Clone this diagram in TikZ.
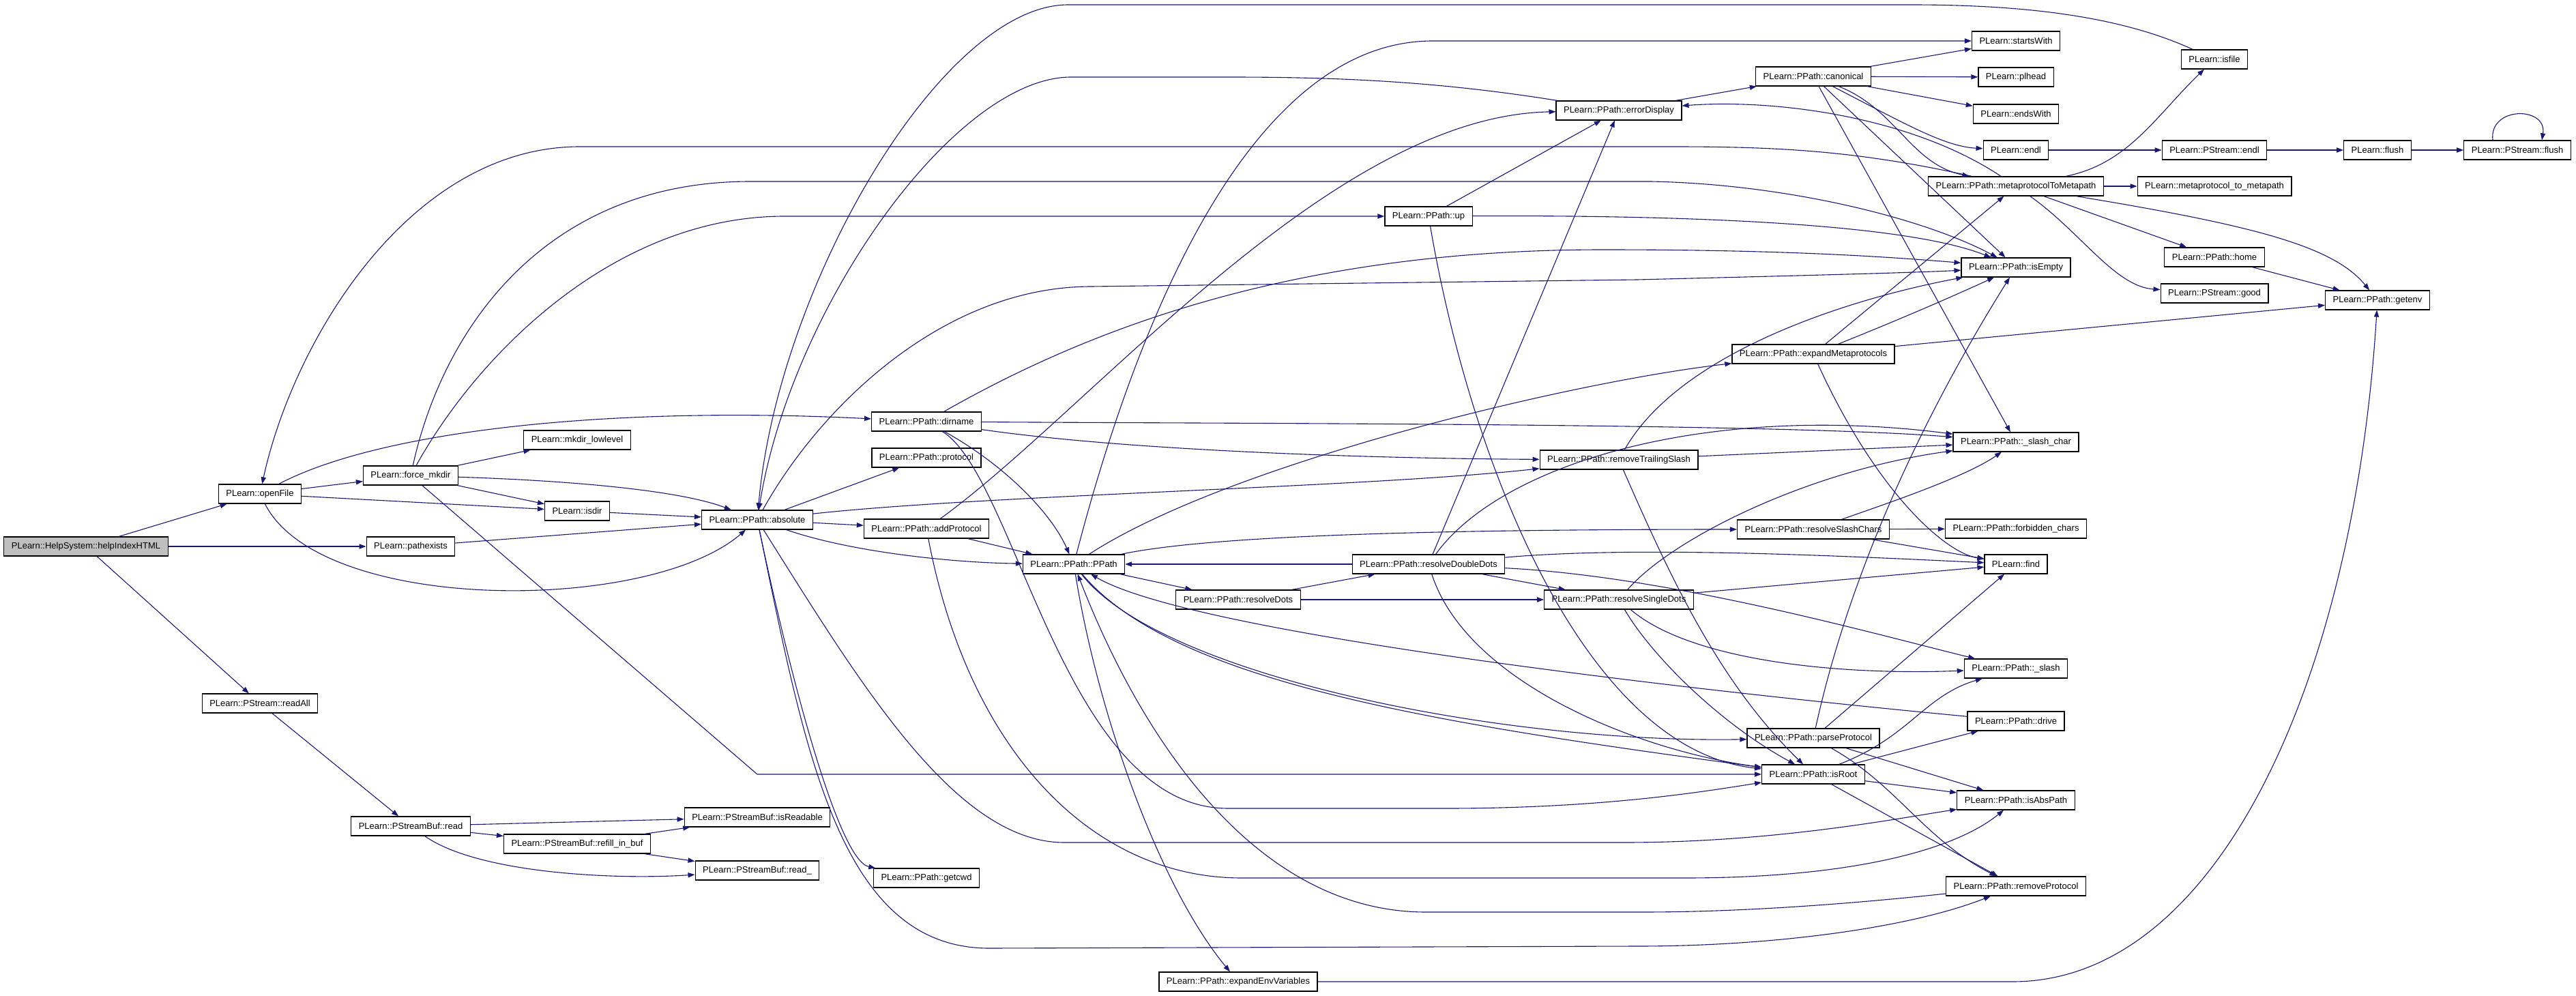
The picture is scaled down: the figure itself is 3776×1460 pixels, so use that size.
\documentclass[tikz,border=0pt]{standalone}
\usepackage{fontspec}
\setmainfont{Liberation Sans}
\usetikzlibrary{arrows.meta}
\definecolor{edgeblue}{HTML}{191970}
\definecolor{rootgray}{HTML}{BFBFBF}
\begin{document}
\begin{tikzpicture}[x=0.5pt, y=-0.5pt,
  fn/.style = {draw, fill=white, line width=0.6pt, minimum height=14pt, inner xsep=5.5pt, inner ysep=0pt, font=\fontsize{6.5}{7}\selectfont},
  root/.style = {fn, fill=rootgray},
  call/.style = {draw=edgeblue, line width=0.55pt, -{Triangle[length=5pt,width=3.6pt]}}]

	\fill[white] (0,0) rectangle (3776,1460);
	\useasboundingbox (0,0) rectangle (3776,1460);

	\node[root] (help) at (126,801) {PLearn::HelpSystem::helpIndexHTML};
	\node[fn] (openFile) at (381,724) {PLearn::openFile};
	\node[fn] (pathexists) at (602,801) {PLearn::pathexists};
	\node[fn] (readAll) at (381,1031) {PLearn::PStream::readAll};
	\node[fn] (forceMkdir) at (602,697) {PLearn::force\_mkdir};
	\node[fn] (mkdirLow) at (846,645) {PLearn::mkdir\_lowlevel};
	\node[fn] (isdir) at (846,749) {PLearn::isdir};
	\node[fn] (absolute) at (1110,762) {PLearn::PPath::absolute};
	\node[fn] (sbRead) at (602,1211) {PLearn::PStreamBuf::read};
	\node[fn] (isReadable) at (1110,1198) {PLearn::PStreamBuf::isReadable};
	\node[fn] (refill) at (846,1237) {PLearn::PStreamBuf::refill\_in\_buf};
	\node[fn] (readU) at (1110,1276) {PLearn::PStreamBuf::read\_};
	\node[fn] (dirname) at (1358,618) {PLearn::PPath::dirname};
	\node[fn] (protocol) at (1358,671) {PLearn::PPath::protocol};
	\node[fn] (addProtocol) at (1358,775) {PLearn::PPath::addProtocol};
	\node[fn] (getcwd) at (1358,1287) {PLearn::PPath::getcwd};
	\node[fn] (ppath) at (1574,827) {PLearn::PPath::PPath};
	\node[fn] (resolveDots) at (1815,879) {PLearn::PPath::resolveDots};
	\node[fn] (expandEnv) at (1815,1439) {PLearn::PPath::expandEnvVariables};
	\node[fn] (up) at (2094,317) {PLearn::PPath::up};
	\node[fn] (resolveDD) at (2094,827) {PLearn::PPath::resolveDoubleDots};
	\node[fn] (errorDisplay) at (2373,162) {PLearn::PPath::errorDisplay};
	\node[fn] (removeTS) at (2373,674) {PLearn::PPath::removeTrailingSlash};
	\node[fn] (resolveSD) at (2373,879) {PLearn::PPath::resolveSingleDots};
	\node[fn] (canonical) at (2658,112) {PLearn::PPath::canonical};
	\node[fn] (expandMeta) at (2658,519) {PLearn::PPath::expandMetaprotocols};
	\node[fn] (resolveSC) at (2658,776) {PLearn::PPath::resolveSlashChars};
	\node[fn] (parseProtocol) at (2658,1082) {PLearn::PPath::parseProtocol};
	\node[fn] (isRoot) at (2658,1135) {PLearn::PPath::isRoot};
	\node[fn] (startsWith) at (2955,60) {PLearn::startsWith};
	\node[fn] (plhead) at (2955,113) {PLearn::plhead};
	\node[fn] (endsWith) at (2955,167) {PLearn::endsWith};
	\node[fn] (endl) at (2955,220) {PLearn::endl};
	\node[fn] (metaToMeta) at (2955,273) {PLearn::PPath::metaprotocolToMetapath};
	\node[fn] (isEmpty) at (2955,392) {PLearn::PPath::isEmpty};
	\node[fn] (slashChar) at (2955,648) {PLearn::PPath::\_slash\_char};
	\node[fn] (forbidden) at (2955,775) {PLearn::PPath::forbidden\_chars};
	\node[fn] (find) at (2955,827) {PLearn::find};
	\node[fn] (slash) at (2955,980) {PLearn::PPath::\_slash};
	\node[fn] (drive) at (2955,1057) {PLearn::PPath::drive};
	\node[fn] (isAbsPath) at (2955,1173) {PLearn::PPath::isAbsPath};
	\node[fn] (removeProtocol) at (2955,1299) {PLearn::PPath::removeProtocol};
	\node[fn] (isfile) at (3246,87) {PLearn::isfile};
	\node[fn] (psEndl) at (3246,220) {PLearn::PStream::endl};
	\node[fn] (metaUnderscore) at (3246,273) {PLearn::metaprotocol\_to\_metapath};
	\node[fn] (home) at (3246,377) {PLearn::PPath::home};
	\node[fn] (good) at (3246,430) {PLearn::PStream::good};
	\node[fn] (flush) at (3485,220) {PLearn::flush};
	\node[fn] (getenv) at (3485,440) {PLearn::PPath::getenv};
	\node[fn] (psFlush) at (3690,220) {PLearn::PStream::flush};

	\draw[call] (help) -- (openFile);
	\draw[call] (help) -- (pathexists);
	\draw[call] (help) -- (readAll);
	\draw[call] (openFile) -- (forceMkdir);
	\draw[call] (openFile) -- (isdir);
	\draw[call] (openFile) .. controls (470,900) and (950,900) .. (absolute);
	\draw[call] (openFile) .. controls (560,630) and (900,595) .. (dirname);
	\draw[call] (metaToMeta) .. controls (2720,220) and (2600,215) .. (2450,215) -- (850,215) .. controls (600,215) and (430,500) .. (openFile);
	\draw[call] (forceMkdir) -- (mkdirLow);
	\draw[call] (forceMkdir) -- (isdir);
	\draw[call] (forceMkdir) .. controls (850,705) and (1000,720) .. (absolute);
	\draw[call] (forceMkdir) -- (1110,1135) -- (isRoot);
	\draw[call] (forceMkdir) .. controls (650,480) and (800,266) .. (1100,266) -- (2420,266) .. controls (2620,270) and (2820,320) .. (isEmpty);
	\draw[call] (forceMkdir) .. controls (700,520) and (900,317) .. (1150,317) -- (up);
	\draw[call] (isdir) -- (absolute);
	\draw[call] (pathexists) -- (absolute);
	\draw[call] (readAll) -- (sbRead);
	\draw[call] (sbRead) -- (isReadable);
	\draw[call] (sbRead) -- (refill);
	\draw[call] (sbRead) .. controls (700,1280) and (900,1290) .. (readU);
	\draw[call] (refill) -- (isReadable);
	\draw[call] (refill) -- (readU);
	\draw[call] (isfile) .. controls (3100,20) and (2950,7) .. (2800,7) -- (1565,7) .. controls (1380,8) and (1140,420) .. (absolute);
	\draw[call] (errorDisplay) .. controls (2100,118) and (1950,113) .. (1800,113) -- (1570,113) .. controls (1400,113) and (1160,450) .. (absolute);
	\draw[call] (absolute) -- (protocol);
	\draw[call] (absolute) -- (addProtocol);
	\draw[call] (absolute) .. controls (1250,810) and (1400,825) .. (ppath);
	\draw[call] (absolute) .. controls (1200,600) and (1380,420) .. (1600,420) -- (2400,410) .. controls (2600,405) and (2800,400) .. (isEmpty);
	\draw[call] (absolute) .. controls (1450,725) and (2000,715) .. (removeTS);
	\draw[call] (absolute) .. controls (1160,1000) and (1230,1262) .. (getcwd);
	\draw[call] (absolute) .. controls (1180,1100) and (1230,1390) .. (1450,1390) -- (2400,1387) .. controls (2600,1387) and (2800,1360) .. (removeProtocol);
	\draw[call] (absolute) .. controls (1260,1000) and (1400,1235) .. (1560,1235) -- (2380,1235) .. controls (2600,1235) and (2780,1200) .. (isAbsPath);
	\draw[call] (ppath) -- (resolveDots);
	\draw[call] (resolveDots) -- (resolveDD);
	\draw[call] (resolveDots) -- (resolveSD);
	\draw[call] (resolveDD) -- (ppath);
	\draw[call] (resolveDD) -- (resolveSD);
	\draw[call] (ppath) .. controls (1680,420) and (1850,60) .. (2100,60) -- (startsWith);
	\draw[call] (ppath) .. controls (1800,680) and (2300,560) .. (expandMeta);
	\draw[call] (ppath) .. controls (1750,790) and (2000,776) .. (resolveSC);
	\draw[call] (ppath) .. controls (1610,1050) and (1700,1300) .. (expandEnv);
	\draw[call] (ppath) .. controls (1700,990) and (2200,1090) .. (parseProtocol);
	\draw[call] (ppath) .. controls (1720,1000) and (2100,1060) .. (isRoot);
	\draw[call] (drive) .. controls (2500,1014) and (1750,930) .. (ppath);
	\draw[call] (removeProtocol) .. controls (2600,1337) and (2450,1337) .. (2400,1337) -- (2090,1337) .. controls (1850,1337) and (1680,1100) .. (ppath);
	\draw[call] (addProtocol) -- (ppath);
	\draw[call] (addProtocol) .. controls (1600,600) and (1950,170) .. (errorDisplay);
	\draw[call] (addProtocol) .. controls (1420,1100) and (1600,1287) .. (1820,1287) -- (2470,1287) .. controls (2700,1287) and (2860,1250) .. (isAbsPath);
	\draw[call] (dirname) .. controls (1470,680) and (1540,750) .. (ppath);
	\draw[call] (dirname) .. controls (1600,480) and (1900,366) .. (2350,366) .. controls (2600,366) and (2750,375) .. (isEmpty);
	\draw[call] (dirname) .. controls (1800,621) and (2600,620) .. (slashChar);
	\draw[call] (dirname) .. controls (1650,660) and (2000,672) .. (removeTS);
	\draw[call] (dirname) .. controls (1490,700) and (1560,1185) .. (1800,1185) -- (2120,1185) .. controls (2350,1185) and (2500,1160) .. (isRoot);
	\draw[call] (up) -- (errorDisplay);
	\draw[call] (up) .. controls (2500,315) and (2800,330) .. (isEmpty);
	\draw[call] (up) .. controls (2160,700) and (2330,1100) .. (isRoot);
	\draw[call] (errorDisplay) -- (canonical);
	\draw[call] (canonical) -- (startsWith);
	\draw[call] (canonical) -- (plhead);
	\draw[call] (canonical) -- (endsWith);
	\draw[call] (canonical) .. controls (2790,180) and (2850,215) .. (endl);
	\draw[call] (canonical) .. controls (2780,160) and (2800,240) .. (metaToMeta);
	\draw[call] (canonical) -- (isEmpty);
	\draw[call] (canonical) -- (slashChar);
	\draw[call] (metaToMeta) .. controls (2800,170) and (2600,145) .. (errorDisplay);
	\draw[call] (metaToMeta) -- (metaUnderscore);
	\draw[call] (metaToMeta) .. controls (3120,240) and (3160,170) .. (isfile);
	\draw[call] (metaToMeta) -- (home);
	\draw[call] (metaToMeta) .. controls (3050,340) and (3100,420) .. (good);
	\draw[call] (metaToMeta) .. controls (3300,330) and (3420,360) .. (getenv);
	\draw[call] (expandMeta) -- (metaToMeta);
	\draw[call] (expandMeta) -- (getenv);
	\draw[call] (expandMeta) .. controls (2780,470) and (2850,440) .. (isEmpty);
	\draw[call] (expandMeta) .. controls (2750,720) and (2850,810) .. (find);
	\draw[call] (removeTS) .. controls (2460,520) and (2700,440) .. (isEmpty);
	\draw[call] (removeTS) -- (slashChar);
	\draw[call] (removeTS) .. controls (2450,850) and (2520,1000) .. (isRoot);
	\draw[call] (resolveSC) .. controls (2760,740) and (2880,700) .. (slashChar);
	\draw[call] (resolveSC) -- (forbidden);
	\draw[call] (resolveSC) -- (find);
	\draw[call] (resolveSD) -- (find);
	\draw[call] (resolveSD) .. controls (2480,970) and (2700,990) .. (slash);
	\draw[call] (resolveSD) .. controls (2450,790) and (2650,690) .. (slashChar);
	\draw[call] (resolveSD) .. controls (2420,960) and (2520,1060) .. (isRoot);
	\draw[call] (resolveDD) -- (errorDisplay);
	\draw[call] (resolveDD) .. controls (2200,680) and (2500,590) .. (slashChar);
	\draw[call] (resolveDD) .. controls (2400,800) and (2700,815) .. (find);
	\draw[call] (resolveDD) .. controls (2450,845) and (2750,930) .. (slash);
	\draw[call] (resolveDD) .. controls (2150,1000) and (2400,1100) .. (isRoot);
	\draw[call] (parseProtocol) .. controls (2720,800) and (2850,560) .. (isEmpty);
	\draw[call] (parseProtocol) -- (find);
	\draw[call] (parseProtocol) -- (isAbsPath);
	\draw[call] (parseProtocol) .. controls (2780,1150) and (2820,1230) .. (removeProtocol);
	\draw[call] (isRoot) -- (drive);
	\draw[call] (isRoot) -- (isAbsPath);
	\draw[call] (isRoot) -- (removeProtocol);
	\draw[call] (isRoot) .. controls (2800,1080) and (2820,1020) .. (slash);
	\draw[call] (home) -- (getenv);
	\draw[call] (expandEnv) -- (2950,1439) .. controls (3250,1439) and (3450,1000) .. (getenv);
	\draw[call] (endl) -- (psEndl);
	\draw[call] (psEndl) -- (flush);
	\draw[call] (flush) -- (psFlush);
	\draw[call] ([xshift=-18pt]psFlush.north) .. controls +(-6,-50) and +(8,-50) .. ([xshift=18pt]psFlush.north);
	\end{tikzpicture}
\end{document}
